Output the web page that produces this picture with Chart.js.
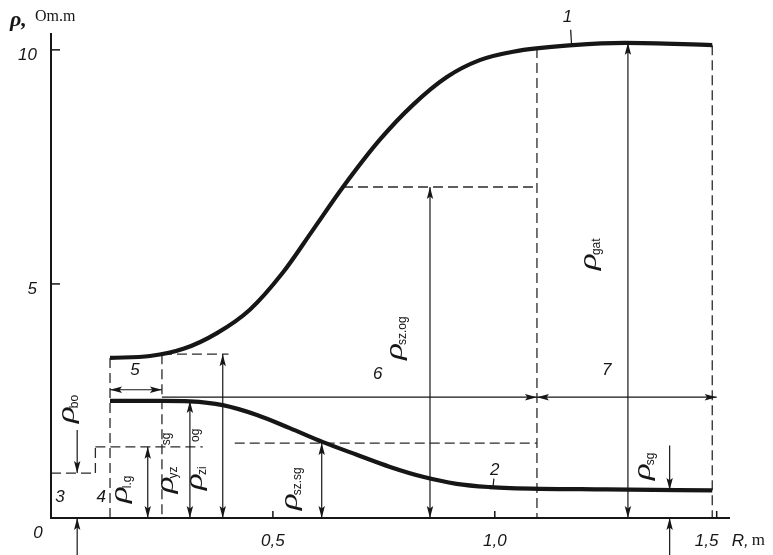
<!DOCTYPE html>
<html>
<head>
<meta charset="utf-8">
<script src="https://cdn.jsdelivr.net/npm/chart.js@4.4.1/dist/chart.umd.min.js"></script>
<style>
  html, body { margin: 0; background: #fff; }
</style>
</head>
<body>
<canvas id="chart" width="773" height="555"></canvas>
<script>
// Resistivity profile vs. radius. Curve 1 = rising profile, curve 2 = falling profile.
const rCurve1   = [0.133, 0.223, 0.30, 0.374, 0.448, 0.523, 0.59, 0.658, 0.741, 0.815, 0.892, 0.966, 1.041, 1.176, 1.293, 1.49];
const rhoCurve1 = [3.42, 3.46, 3.62, 3.95, 4.45, 5.25, 6.15, 7.07, 8.08, 8.82, 9.42, 9.78, 9.96, 10.10, 10.15, 10.10];
const rCurve2   = [0.133, 0.25, 0.313, 0.387, 0.464, 0.538, 0.613, 0.689, 0.764, 0.838, 0.914, 0.989, 1.034, 1.25, 1.49];
const rhoCurve2 = [2.50, 2.50, 2.49, 2.41, 2.20, 1.92, 1.62, 1.35, 1.09, 0.88, 0.73, 0.66, 0.64, 0.61, 0.59];

const xTicks = [0.5, 1.0, 1.5];
const xTickLabels = ["0,5", "1,0", "1,5"];
const yTicks = [5, 10];
const yTickLabels = ["5", "10"];

// dashed guide segments [r1, rho1, r2, rho2]
const dashedGuides = [
  [0.133, 3.42, 0.133, 0],
  [0.25, 3.50, 0.25, 0],
  [0.25, 3.50, 0.40, 3.50],
  [1.095, 10.04, 1.095, 0],
  [1.49, 10.10, 1.49, 0],
  [0.658, 7.07, 1.095, 7.07],
  [0.414, 1.60, 1.095, 1.60],
  [0, 0.96, 0.10, 0.96],
  [0.10, 0.96, 0.10, 1.52],
  [0.10, 1.52, 0.342, 1.52],
];

// arrows [r1, rho1, r2, rho2, headAtStart, headAtEnd]
const arrows = [
  [0.133, 2.74, 0.25, 2.74, 1, 1],   // 5
  [0.25, 2.58, 1.095, 2.58, 0, 1],   // 6
  [1.095, 2.58, 1.50, 2.58, 1, 1],   // 7
  [0.059, 1.88, 0.059, 0.96, 0, 1],  // rho_bo
  [0.059, -0.79, 0.059, 0, 0, 1],
  [0.218, 0, 0.218, 1.52, 1, 1],     // rho_l.g
  [0.313, 0, 0.313, 2.50, 1, 1],     // rho_yz
  [0.387, 0, 0.387, 3.50, 1, 1],     // rho_zi
  [0.61, 0, 0.61, 1.60, 1, 1],       // rho_sz.sg
  [0.854, 0, 0.854, 7.07, 1, 1],     // rho_sz.og
  [1.30, 0, 1.30, 10.15, 1, 1],      // rho_gat
  [1.394, 1.55, 1.394, 0.60, 0, 1],  // rho_sg
  [1.394, -0.79, 1.394, 0, 0, 1],
];

// curve / zone numbers [text, r, rho]
const numberLabels = [
  ["1", 1.164, 10.70], ["2", 1.0, 1.03], ["3", 0.02, 0.45], ["4", 0.113, 0.45],
  ["5", 0.189, 3.16], ["6", 0.736, 3.06], ["7", 1.252, 3.16],
];
// leader ticks from number to curve [r1, rho1, r2, rho2]
const leaders = [[1.171, 10.43, 1.173, 10.12], [0.998, 0.84, 0.996, 0.66]];

// rotated symbol labels [subscript, r, rho, extra subscript above]
const rhoLabels = [
  ["bo", 0.051, 2.03, ""],
  ["l.g", 0.171, 0.32, ""],
  ["yz", 0.275, 0.53, "sg"],
  ["zi", 0.340, 0.60, "og"],
  ["sz.sg", 0.555, 0.17, ""],
  ["sz.og", 0.79, 3.38, ""],
  ["gat", 1.228, 5.30, ""],
  ["sg", 1.35, 0.81, ""],
];

const INK = "#161616";

function pts(xs, ys) { return xs.map((x, i) => ({ x, y: ys[i] })); }

const datasets = [
  { data: pts(rCurve1, rhoCurve1), borderColor: INK, borderWidth: 4.2, cubicInterpolationMode: "monotone" },
  { data: pts(rCurve2, rhoCurve2), borderColor: INK, borderWidth: 4.2, cubicInterpolationMode: "monotone" },
  ...dashedGuides.map(g => ({
    data: [{ x: g[0], y: g[1] }, { x: g[2], y: g[3] }],
    borderColor: "#2a2a2a", borderWidth: 1.3, borderDash: [10, 5],
  })),
].map(d => Object.assign({ showLine: true, pointRadius: 0, fill: false }, d));

function head(ctx, x, y, ux, uy) {
  const L = 12, W = 3.2;
  ctx.beginPath();
  ctx.moveTo(x, y);
  ctx.lineTo(x - ux * L - uy * W, y - uy * L + ux * W);
  ctx.lineTo(x - ux * L * 0.8, y - uy * L * 0.8);
  ctx.lineTo(x - ux * L + uy * W, y - uy * L - ux * W);
  ctx.closePath();
  ctx.fill();
}

const overlay = {
  id: "overlay",
  afterDraw(chart) {
    const { ctx, scales: { x, y } } = chart;
    const px = v => x.getPixelForValue(v), py = v => y.getPixelForValue(v);
    ctx.save();
    ctx.strokeStyle = INK; ctx.fillStyle = INK;

    // axes
    ctx.lineWidth = 2;
    ctx.beginPath();
    ctx.moveTo(px(0), py(10.36)); ctx.lineTo(px(0), py(0)); ctx.lineTo(px(1.53), py(0));
    ctx.stroke();
    ctx.lineWidth = 1.5;
    yTicks.forEach(t => { ctx.beginPath(); ctx.moveTo(px(0), py(t)); ctx.lineTo(px(0) + 9, py(t)); ctx.stroke(); });
    xTicks.forEach(t => { ctx.beginPath(); ctx.moveTo(px(t), py(0)); ctx.lineTo(px(t), py(0) - 7); ctx.stroke(); });

    // arrows
    ctx.lineWidth = 1.2;
    arrows.forEach(([r1, v1, r2, v2, hs, he]) => {
      const x1 = px(r1), y1 = py(v1), x2 = px(r2), y2 = py(v2);
      const len = Math.hypot(x2 - x1, y2 - y1), ux = (x2 - x1) / len, uy = (y2 - y1) / len;
      ctx.beginPath(); ctx.moveTo(x1, y1); ctx.lineTo(x2, y2); ctx.stroke();
      if (he) head(ctx, x2, y2, ux, uy);
      if (hs) head(ctx, x1, y1, -ux, -uy);
    });
    leaders.forEach(([r1, v1, r2, v2]) => {
      ctx.beginPath(); ctx.moveTo(px(r1), py(v1)); ctx.lineTo(px(r2), py(v2)); ctx.stroke();
    });

    // tick labels
    ctx.textBaseline = "middle";
    ctx.font = "italic 17px 'Liberation Sans'";
    ctx.textAlign = "center";
    xTicks.forEach((t, i) => ctx.fillText(xTickLabels[i], px(t) - (i === 2 ? 10 : 0), py(0) + 23));
    ctx.fillText("0", px(0) - 13, py(0) + 15);
    ctx.textAlign = "right";
    yTicks.forEach((t, i) => ctx.fillText(yTickLabels[i], px(0) - 14, py(t) + 5));
    ctx.textAlign = "left";
    ctx.fillText("R,", px(1.5) + 15, py(0) + 23);
    ctx.font = "17px 'Liberation Serif'";
    ctx.fillText("m", px(1.5) + 35, py(0) + 23);

    // axis title
    ctx.font = "italic bold 22px 'Liberation Serif'";
    ctx.fillText("ρ,", 10, 20);
    ctx.font = "16px 'Liberation Serif'";
    ctx.fillText("Om.m", 35, 17);

    // numbers
    ctx.textAlign = "center";
    ctx.font = "italic 17px 'Liberation Sans'";
    numberLabels.forEach(([t, r, v]) => ctx.fillText(t, px(r), py(v)));

    // rotated rho symbols (stretched along the text direction like the drawing)
    rhoLabels.forEach(([sub, r, v, extra]) => {
      ctx.save();
      ctx.translate(px(r), py(v));
      ctx.rotate(-Math.PI / 2);
      ctx.textAlign = "left";
      ctx.textBaseline = "alphabetic";
      ctx.font = "italic 25px 'Liberation Serif'";
      const w = ctx.measureText("ρ").width * 1.4;
      ctx.save(); ctx.scale(1.4, 1); ctx.fillText("ρ", 0, 0); ctx.restore();
      ctx.font = "12px 'Liberation Sans'";
      ctx.fillText(sub, w - 2, 4);
      if (extra) ctx.fillText(extra, 48, -3);
      ctx.restore();
    });
    ctx.restore();
  },
};

new Chart(document.getElementById("chart"), {
  type: "scatter",
  data: { datasets },
  options: {
    responsive: false,
    animation: false,
    devicePixelRatio: 1,
    layout: { padding: { left: 51, right: 43, top: 33, bottom: 37 } },
    plugins: { legend: { display: false }, tooltip: { enabled: false } },
    scales: {
      x: { type: "linear", min: 0, max: 1.53, display: false },
      y: { type: "linear", min: 0, max: 10.36, display: false },
    },
  },
  plugins: [overlay],
});
</script>
</body>
</html>
